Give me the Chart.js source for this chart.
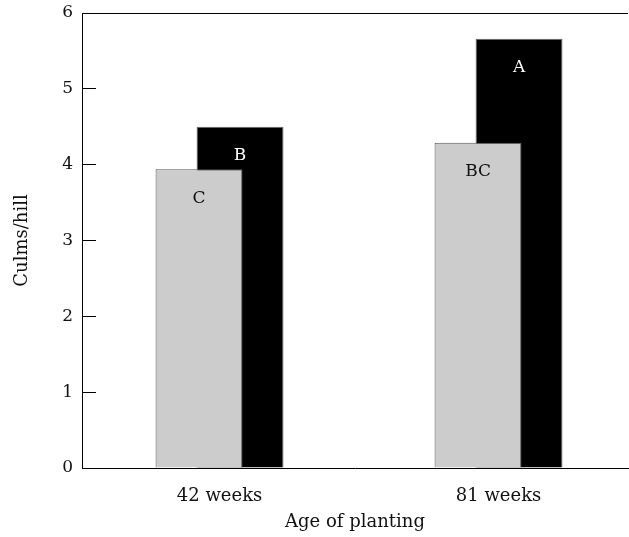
<!DOCTYPE html>
<html>
<head>
<meta charset="utf-8">
<script src="https://cdn.jsdelivr.net/npm/chart.js@4.4.0/dist/chart.umd.min.js"></script>
<style>
  html, body { margin: 0; padding: 0; background: #fff; }
  #wrap { width: 629px; height: 537px; }
</style>
</head>
<body>
<div id="wrap"><canvas id="chart" width="629" height="537"></canvas></div>
<script>
// Datos
const categorias = ['42 weeks', '81 weeks'];
const valoresGris = [3.94, 4.29];
const valoresNegro = [4.50, 5.66];
const letrasGris = ['C', 'BC'];
const letrasNegro = ['B', 'A'];
const ticksY = [0, 1, 2, 3, 4, 5, 6];

const fuente = "'DejaVu Serif', serif";

// letras encima de cada barra (dentro, cerca del borde superior)
const letrasPlugin = {
    id: 'letras',
    afterDatasetsDraw(chart) {
        const ctx = chart.ctx;
        ctx.save();
        ctx.font = '17px ' + fuente;
        ctx.textAlign = 'center';
        ctx.textBaseline = 'middle';
        chart.data.datasets.forEach((ds, di) => {
            const meta = chart.getDatasetMeta(di);
            meta.data.forEach((bar, i) => {
                ctx.fillStyle = ds._letraColor;
                ctx.fillText(ds._letras[i], bar.x, bar.y + 29);
            });
        });
        ctx.restore();
    }
};

// linea superior del marco
const marcoPlugin = {
    id: 'marco',
    afterDraw(chart) {
        const a = chart.chartArea;
        const ctx = chart.ctx;
        ctx.save();
        ctx.strokeStyle = '#000';
        ctx.lineWidth = 1;
        ctx.beginPath();
        ctx.moveTo(a.left, a.top + 0.5);
        ctx.lineTo(a.right, a.top + 0.5);
        ctx.stroke();
        ctx.restore();
    }
};

const ctx = document.getElementById('chart').getContext('2d');
new Chart(ctx, {
    type: 'bar',
    data: {
        datasets: [
            {
                data: valoresGris.map((v, i) => ({ x: i + 1, y: v })),
                backgroundColor: '#cccccc',
                borderColor: '#555555',
                borderWidth: 1,
                _letras: letrasGris,
                _letraColor: '#111'
            },
            {
                data: valoresNegro.map((v, i) => ({ x: i + 1, y: v })),
                backgroundColor: '#000000',
                borderColor: '#666666',
                borderWidth: 1,
                _letras: letrasNegro,
                _letraColor: '#fff'
            }
        ]
    },
    options: {
        responsive: false,
        animation: false,
        categoryPercentage: 0.294,
        barPercentage: 2.12,
        layout: { padding: { left: 0, right: 1, top: 13, bottom: 0 } },
        plugins: {
            legend: { display: false },
            tooltip: { enabled: false }
        },
        scales: {
            x: {
                type: 'linear',
                min: 0.507,
                max: 2.464,
                offset: false,
                afterBuildTicks: (s) => { s.ticks = categorias.map((c, i) => ({ value: i + 1 })); },
                afterFit: (s) => { s.height = 69; s.paddingLeft = 0; s.paddingRight = 0; },
                grid: { display: false, offset: false },
                border: { color: '#000', width: 1 },
                ticks: {
                    color: '#111',
                    font: { family: fuente, size: 18 },
                    padding: 10,
                    autoSkip: false,
                    maxRotation: 0,
                    callback: (v) => categorias[v - 1]
                },
                title: {
                    display: true,
                    text: 'Age of planting',
                    color: '#111',
                    font: { family: fuente, size: 18 },
                    padding: { top: 0, bottom: 4 }
                }
            },
            y: {
                min: 0,
                max: 6,
                afterBuildTicks: (s) => { s.ticks = ticksY.map(v => ({ value: v })); },
                afterFit: (s) => { s.width = 82; s.paddingTop = 0; s.paddingBottom = 0; },
                grid: {
                    drawOnChartArea: false,
                    drawTicks: true,
                    tickLength: -14,
                    color: '#000'
                },
                border: { color: '#000', width: 1 },
                ticks: {
                    color: '#111',
                    font: { family: fuente, size: 17 },
                    padding: 23
                },
                title: {
                    display: true,
                    text: 'Culms/hill',
                    color: '#111',
                    font: { family: fuente, size: 18 },
                    padding: { top: 12, bottom: 0 }
                }
            }
        }
    },
    plugins: [letrasPlugin, marcoPlugin]
});
</script>
</body>
</html>
